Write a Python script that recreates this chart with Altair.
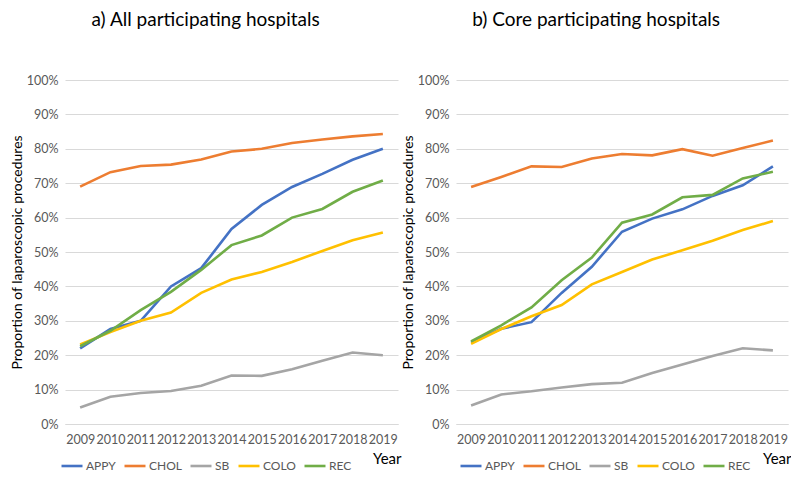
import altair as alt
import pandas as pd

years = [str(y) for y in range(2009, 2020)]
series = ["APPY", "CHOL", "SB", "COLO", "REC"]
colors = ["#4472C4", "#ED7D31", "#A5A5A5", "#FFC000", "#70AD47"]

# a) All participating hospitals (%)
all_appy = [22.0, 27.6, 30.0, 40.0, 45.3, 56.7, 63.7, 68.9, 72.7, 76.8, 80.0]
all_chol = [69.0, 73.2, 75.0, 75.4, 76.9, 79.2, 80.0, 81.7, 82.7, 83.6, 84.3]
all_sb = [4.8, 7.9, 9.0, 9.6, 11.1, 14.1, 14.0, 15.9, 18.4, 20.8, 20.0]
all_colo = [23.1, 26.7, 30.0, 32.4, 38.1, 42.0, 44.2, 47.1, 50.3, 53.4, 55.7]
all_rec = [22.6, 27.1, 33.1, 38.4, 44.8, 52.0, 54.8, 60.0, 62.5, 67.5, 70.8]

# b) Core participating hospitals (%)
core_appy = [23.8, 27.7, 29.6, 38.1, 45.7, 55.9, 59.7, 62.4, 66.3, 69.4, 74.9]
core_chol = [68.9, 71.8, 74.9, 74.7, 77.2, 78.5, 78.1, 79.9, 78.0, 80.2, 82.4]
core_sb = [5.4, 8.6, 9.5, 10.6, 11.6, 12.0, 14.8, 17.3, 19.8, 22.0, 21.4]
core_colo = [23.3, 27.6, 31.3, 34.6, 40.6, 44.2, 47.8, 50.5, 53.3, 56.4, 59.0]
core_rec = [24.0, 28.7, 33.9, 41.8, 48.4, 58.5, 60.9, 65.9, 66.6, 71.4, 73.3]

panels = {
    "a": [all_appy, all_chol, all_sb, all_colo, all_rec],
    "b": [core_appy, core_chol, core_sb, core_colo, core_rec],
}

rows = []
for p, lists in panels.items():
    for s, vals in zip(series, lists):
        for y, v in zip(years, vals):
            rows.append({"panel": p, "Year": y, "series": s, "value": v / 100.0})
df = pd.DataFrame(rows)

FONT = "Lato"
H = 344


def panel(p, title, width, legend_x):
    return (
        alt.Chart(df[df.panel == p], title=alt.Title(
            title, fontSize=19, font=FONT, fontWeight="normal", color="#000000",
            anchor="middle", frame="bounds", offset=44))
        .mark_line(strokeWidth=2.6)
        .encode(
            x=alt.X("Year:O", sort=years,
                    scale=alt.Scale(type="point", padding=0.5),
                    axis=alt.Axis(title="Year", titleAnchor="end", titleAlign="right",
                                  titleX=width + 3, titleFontSize=15, titleFontWeight="normal",
                                  titleColor="#000000", titlePadding=6,
                                  labelAngle=0, labelFontSize=12.5, labelColor="#595959",
                                  labelPadding=9, ticks=False, domain=True,
                                  domainColor="#D9D9D9", grid=False)),
            y=alt.Y("value:Q", scale=alt.Scale(domain=[0, 1]),
                    axis=alt.Axis(format=".0%", values=[i / 10 for i in range(11)],
                                  title="Proportion of laparoscopic procedures",
                                  titleFontSize=14, titleFontWeight="normal",
                                  titleColor="#000000", titlePadding=2,
                                  labelFontSize=12.5, labelColor="#595959",
                                  labelPadding=7, ticks=False, domain=False,
                                  grid=True, gridColor="#D9D9D9")),
            color=alt.Color("series:N", sort=series,
                            scale=alt.Scale(domain=series, range=colors),
                            legend=alt.Legend(title=None, orient="none", direction="horizontal",
                                              legendX=legend_x, legendY=H + 30,
                                              symbolType="stroke", symbolSize=441,
                                              symbolStrokeWidth=2.6, labelOffset=2,
                                              columnPadding=3, labelFontSize=12,
                                              labelColor="#595959", labelFont=FONT)),
            order=alt.Order("Year:O"),
        )
        .properties(width=width, height=H)
    )


left = panel("a", "a) All participating hospitals", 333, -5)
right = panel("b", "b) Core participating hospitals", 332, 3)

chart = (
    alt.hconcat(left, right, spacing=0)
    .resolve_legend(color="independent")
    .resolve_scale(color="independent")
    .properties(padding={"left": 2, "top": 3, "right": 0, "bottom": 0})
    .configure(font=FONT)
    .configure_view(stroke=None)
)

chart.save("out.html", embed_options={"renderer": "svg", "actions": False})
